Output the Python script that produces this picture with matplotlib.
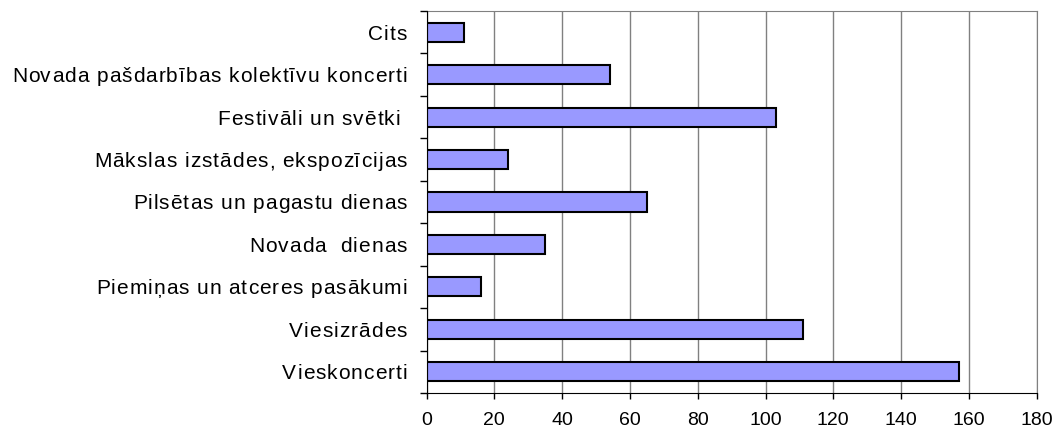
import matplotlib
matplotlib.use("Agg")
import matplotlib.pyplot as plt
import matplotlib.transforms as mtransforms
from matplotlib.font_manager import FontProperties, findfont
from matplotlib.ft2font import FT2Font
import numpy as np

categories = ["Vieskoncerti", "Viesizrādes", "Piemiņas un atceres pasākumi",
              "Novada  dienas", "Pilsētas un pagastu dienas",
              "Mākslas izstādes, ekspozīcijas", "Festivāli un svētki ",
              "Novada pašdarbības kolektīvu koncerti", "Cits"]
values = [157, 111, 16, 35, 65, 24, 103, 54, 11]
xticks = [0, 20, 40, 60, 80, 100, 120, 140, 160, 180]

plt.rcParams['font.family'] = ['Liberation Sans', 'DejaVu Sans']
FS_LAB = 15
FS_TICK = 14

fig = plt.figure(figsize=(10.55, 4.30), dpi=100)
ax = fig.add_axes([426.5/1055, 1 - 393/430, (1036.7-426.5)/1055, (393-11)/430])

y = np.arange(len(categories))
ax.barh(y, values, height=0.45, color='#9999FF', edgecolor='black', linewidth=1.5, zorder=3)

ax.set_xlim(0, 180)
ax.set_ylim(-0.5, len(categories) - 0.5)
ax.set_xticks(xticks)
ax.set_xticklabels([str(t) for t in xticks], fontsize=FS_TICK)
ax.set_yticks(y)
ax.set_yticklabels([])
ax.tick_params(axis='y', which='major', length=0)
ax.set_yticks(np.arange(-0.5, len(categories), 1), minor=True)
ax.tick_params(axis='y', which='minor', length=5, width=1, color='black', direction='out')
ax.tick_params(axis='x', length=4.3, width=1, direction='out', pad=9.5)

ax.grid(axis='x', color='#808080', linewidth=1, zorder=0)
ax.spines['top'].set_color('#808080')
ax.spines['right'].set_color('#808080')
ax.spines['left'].set_color('black')
ax.spines['bottom'].set_color('black')
ax.spines['left'].set_zorder(4)

# letter-spaced category labels
fp = FontProperties(family='Liberation Sans', size=FS_LAB)
font = FT2Font(findfont(fp))
font.set_size(FS_LAB, 72)

def adv(c):
    g = font.load_char(ord(c))
    return g.linearHoriAdvance / 65536.0

spacing = 0.72    # points
right_pad = 14.2  # points from axis
base_shift = -0.716 * FS_LAB / 2.0
for yi, label in zip(y, categories):
    widths = [adv(c) for c in label]
    total = sum(widths) + spacing * (len(label) - 1)
    xpos = -right_pad - total
    for c, w in zip(label, widths):
        if c != ' ':
            tr = ax.get_yaxis_transform() + mtransforms.ScaledTranslation(
                xpos / 72.0, base_shift / 72.0, fig.dpi_scale_trans)
            ax.text(0, yi, c, transform=tr, ha='left', va='baseline',
                    fontsize=FS_LAB, family='Liberation Sans', clip_on=False)
        xpos += w + spacing

fig.savefig("out.png", dpi=100)
